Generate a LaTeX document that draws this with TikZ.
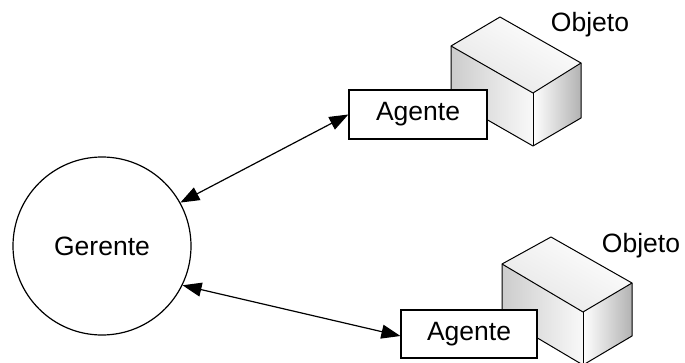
\documentclass[tikz,border=0pt]{standalone}
\usepackage{fontspec}
\setmainfont{Liberation Sans}
\usetikzlibrary{arrows.meta}
\begin{document}
\begin{tikzpicture}[x=1pt,y=1pt,
  lbl/.style={font=\fontsize{26.5}{30}\selectfont, inner sep=0pt},
  agbox/.style={draw, line width=1.2pt, fill=white, minimum width=138pt, minimum height=49pt, inner sep=0pt, font=\fontsize{26.5}{30}\selectfont},
  ger/.style={draw, circle, line width=1.2pt, minimum size=178pt, inner sep=0pt, font=\fontsize{26.5}{30}\selectfont},
  conn/.style={line width=1.2pt, {Triangle[length=19pt,width=14pt]}-{Triangle[length=19pt,width=14pt]}},
  edge/.style={line width=1pt, line join=round}
]
\useasboundingbox (0,0) rectangle (685,362);
\fill[white] (0,0) rectangle (685,362);

% top cube
\begin{scope}
\coordinate (a1) at (451,316); \coordinate (t1) at (500,345); \coordinate (r1) at (581,299);
\coordinate (f1) at (533,269); \coordinate (fb1) at (533,216); \coordinate (rb1) at (581,244);
\coordinate (ab1) at (451,263);
\shade[top color=white, bottom color=gray!20, shading angle=-30] (a1) -- (t1) -- (r1) -- (f1) -- cycle;
\shade[left color=gray!40, right color=gray!5] (a1) -- (f1) -- (fb1) -- (ab1) -- cycle;
\shade[left color=white, right color=gray!60] (f1) -- (r1) -- (rb1) -- (fb1) -- cycle;
\draw[edge] (a1) -- (t1) -- (r1) -- (rb1) -- (fb1) -- (ab1) -- cycle;
\draw[edge] (a1) -- (f1) -- (r1);
\draw[edge] (f1) -- (fb1);
\end{scope}

% bottom cube
\begin{scope}
\coordinate (a2) at (502,98); \coordinate (t2) at (551,125); \coordinate (r2) at (632,79);
\coordinate (f2) at (583,50); \coordinate (fb2) at (583,-3); \coordinate (rb2) at (632,26);
\coordinate (ab2) at (502,45);
\shade[top color=white, bottom color=gray!20, shading angle=-30] (a2) -- (t2) -- (r2) -- (f2) -- cycle;
\shade[left color=gray!40, right color=gray!5] (a2) -- (f2) -- (fb2) -- (ab2) -- cycle;
\shade[left color=white, right color=gray!60] (f2) -- (r2) -- (rb2) -- (fb2) -- cycle;
\draw[edge] (a2) -- (t2) -- (r2) -- (rb2) -- (fb2) -- (ab2) -- cycle;
\draw[edge] (a2) -- (f2) -- (r2);
\draw[edge] (f2) -- (fb2);
\end{scope}

\node[lbl] (obj1) at (590,337) {Objeto};
\node[lbl] (obj2) at (641,116) {Objeto};

\node[agbox] (ag1) at (418,247.5) {Agente};
\node[agbox, minimum width=136pt, minimum height=48pt] (ag2) at (469,28) {Agente};
\node[ger] (g) at (102,116) {Gerente};

\draw[conn] (g.29) -- (ag1.west);
\draw[conn] (g.-26) -- ([yshift=-2pt]ag2.west);
\end{tikzpicture}
\end{document}
